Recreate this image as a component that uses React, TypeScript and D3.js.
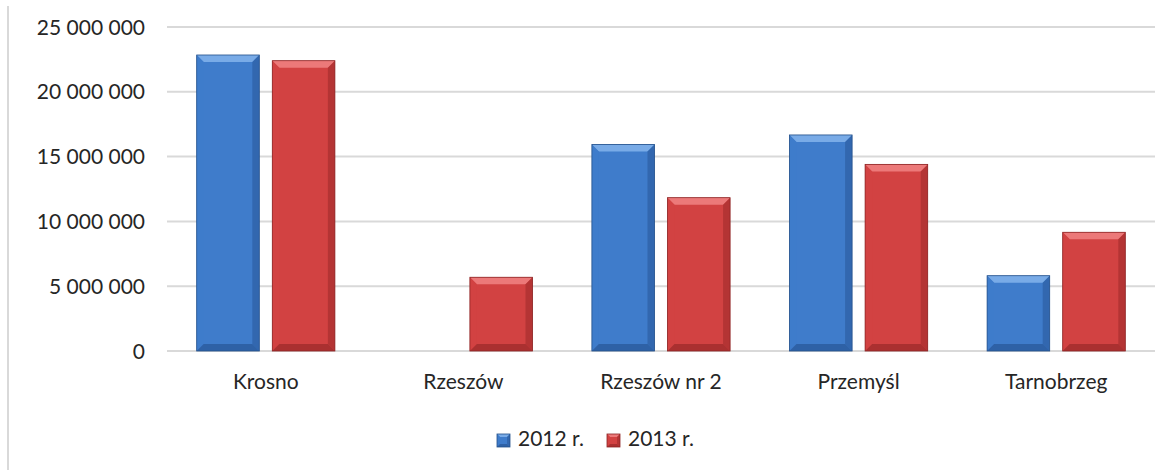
import React from 'react';
import * as d3 from 'd3';

const categories = ['Krosno', 'Rzeszów', 'Rzeszów nr 2', 'Przemyśl', 'Tarnobrzeg'];
const series2012 = [22840000, 0, 15940000, 16670000, 5810000];
const series2013 = [22400000, 5690000, 11830000, 14400000, 9160000];
const seriesNames = ['2012 r.', '2013 r.'];
const yTicks = [0, 5000000, 10000000, 15000000, 20000000, 25000000];

const palette = [
  { base: '#3f7ccb', light: '#7fb0ea', dark: '#2a5a9c', edge: '#24508a' },
  { base: '#d24242', light: '#ee8080', dark: '#a02c2c', edge: '#8c2424' },
];

const W = 1168;
const H = 470;
const margin = { top: 27, right: 13, bottom: 119, left: 167 };

const fmt = d3.formatLocale({ decimal: ',', thousands: '\u00a0', grouping: [3], currency: ['', ' zł'] }).format(',d');
const font = 'Lato, "Open Sans", "DejaVu Sans", sans-serif';
const fs = 21;

// one bevelled bar (Excel "angle" bevel look)
const Bar = ({ x, y, w, h, c, bevel = 7 }: { x: number; y: number; w: number; h: number; c: typeof palette[0]; bevel?: number }) => {
  if (h <= 0) return null;
  const b = Math.min(bevel, h / 2, w / 2);
  return (
    <g>
      <rect x={x} y={y} width={w} height={h} fill={c.base} />
      <polygon points={`${x},${y} ${x + w},${y} ${x + w - b},${y + b} ${x + b},${y + b}`} fill={c.light} opacity={0.9} />
      <polygon points={`${x},${y} ${x + b},${y + b} ${x + b},${y + h - b} ${x},${y + h}`} fill={c.base} opacity={0.8} />
      <polygon points={`${x + w},${y} ${x + w - b},${y + b} ${x + w - b},${y + h - b} ${x + w},${y + h}`} fill={c.dark} opacity={0.6} />
      <polygon points={`${x},${y + h} ${x + b},${y + h - b} ${x + w - b},${y + h - b} ${x + w},${y + h}`} fill={c.dark} opacity={0.8} />
      <rect x={x} y={y} width={w} height={h} fill="none" stroke={c.edge} strokeWidth={0.8} />
    </g>
  );
};

export default function App() {
  const innerW = W - margin.left - margin.right;
  const innerH = H - margin.top - margin.bottom;

  const x0 = d3.scaleBand<string>().domain(categories).range([margin.left, margin.left + innerW]);
  const y = d3.scaleLinear().domain([0, 25000000]).range([margin.top + innerH, margin.top]);

  const barW = 62.6;
  const gap = 13;
  const data = [series2012, series2013];

  return (
    <svg width={W} height={H} style={{ position: 'absolute', left: 0, top: 0, background: '#fff' }} fontFamily={font}>
      {/* chart frame left edge */}
      <line x1={8} x2={8} y1={6} y2={H} stroke="#d9d9d9" strokeWidth={2} />

      {yTicks.map(t => (
        <g key={t}>
          <line x1={margin.left} x2={margin.left + innerW} y1={y(t)} y2={y(t)} stroke="#d9d9d9" strokeWidth={2} />
          <text x={145} y={y(t)} dy="0.36em" textAnchor="end" fontSize={fs} fill="#262626">{fmt(t)}</text>
        </g>
      ))}

      {categories.map((cat, i) => {
        const cx = (x0(cat) as number) + x0.bandwidth() / 2;
        return (
          <g key={cat}>
            {data.map((s, k) => {
              const bx = k === 0 ? cx - gap / 2 - barW : cx + gap / 2;
              return <Bar key={k} x={bx} y={y(s[i])} w={barW} h={y(0) - y(s[i])} c={palette[k]} />;
            })}
            <text x={cx} y={389} textAnchor="middle" fontSize={fs} fill="#262626">{cat}</text>
          </g>
        );
      })}

      {/* legend */}
      {seriesNames.map((name, k) => {
        const lx = 497 + k * 110;
        return (
          <g key={name}>
            <Bar x={lx} y={434} w={13} h={13} c={palette[k]} bevel={3} />
            <text x={lx + 21} y={446} fontSize={fs} fill="#262626">{name}</text>
          </g>
        );
      })}
    </svg>
  );
}
